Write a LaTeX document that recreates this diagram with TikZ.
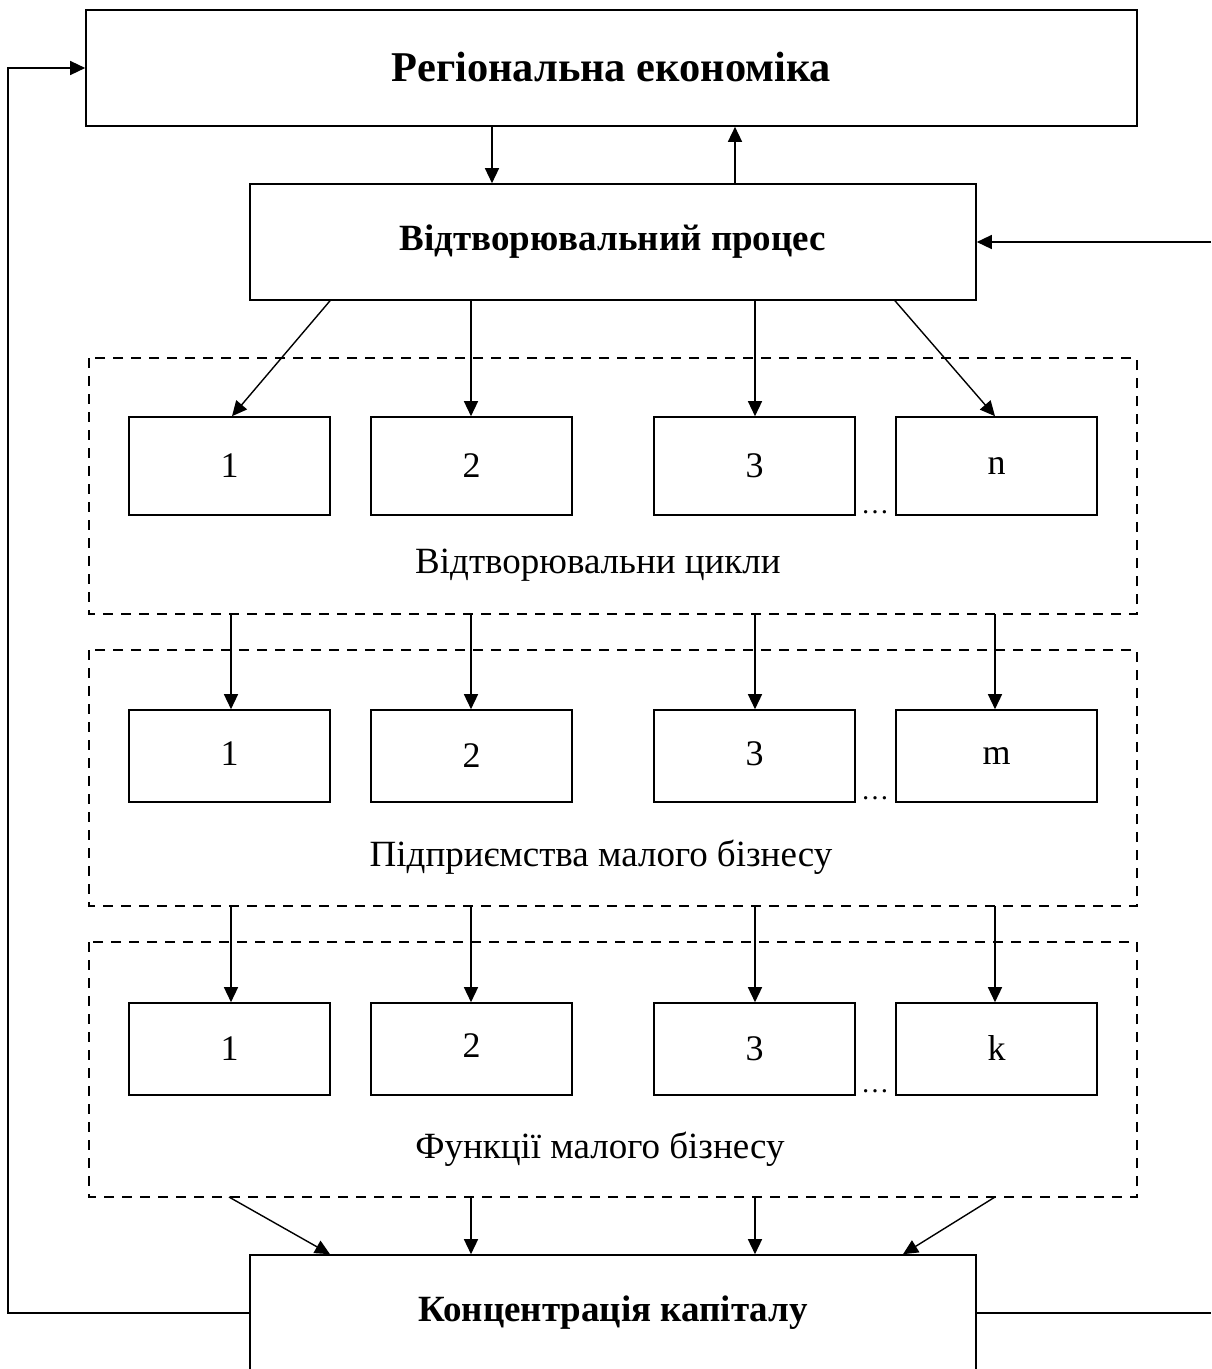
\documentclass[tikz,border=0pt]{standalone}
\usepackage{fontspec}
\setmainfont{Liberation Serif}
\usetikzlibrary{arrows.meta}
\begin{document}
\begin{tikzpicture}[x=1pt,y=-1pt,
  box/.style={draw,line width=1.6pt,inner sep=0pt,rectangle},
  bigbox/.style={box,minimum width=726pt,minimum height=116pt,font=\fontsize{37}{40}\selectfont\bfseries},
  cell/.style={box,minimum width=201pt,font=\fontsize{36}{40}\selectfont},
  group/.style={draw,line width=1.6pt,dash pattern=on 10pt off 8pt},
  lbl/.style={font=\fontsize{37}{40}\selectfont,inner sep=0pt},
  dots/.style={font=\fontsize{28}{30}\selectfont,inner sep=0pt},
  conn/.style={line width=1.4pt},
  arr/.style={conn,-{Triangle[length=15pt,width=14pt]}}]
\useasboundingbox (0,0) rectangle (1211,1369);
% top box
\node[box,minimum width=1051pt,minimum height=116pt,font=\fontsize{42.4}{46}\selectfont\bfseries] (top) at (611.5,68) {\raisebox{3pt}{Регіональна економіка}};
\node[bigbox] (proc) at (613,242) {Відтворювальний процес};
\node[bigbox] (conc) at (613,1313) {Концентрація капіталу};
% dashed groups
\draw[group] (89,358) rectangle (1137,614);
\draw[group] (89,650) rectangle (1137,906);
\draw[group] (89,942) rectangle (1137,1197);
\coordinate (g1b1) at (231,614); \coordinate (g1b2) at (471,614); \coordinate (g1b3) at (755,614); \coordinate (g1b4) at (995,614);
\coordinate (g2b1) at (231,906); \coordinate (g2b2) at (471,906); \coordinate (g2b3) at (755,906); \coordinate (g2b4) at (995,906);
\coordinate (g3b1) at (229,1197); \coordinate (g3b2) at (471,1197); \coordinate (g3b3) at (755,1197); \coordinate (g3b4) at (995,1197);
% row 1
\node[cell,minimum height=98pt] (a1) at (229.5,466) {1};
\node[cell,minimum height=98pt] (a2) at (471.5,466) {2};
\node[cell,minimum height=98pt] (a3) at (754.5,466) {\raisebox{-4pt}{3}};
\node[cell,minimum height=98pt] (a4) at (996.5,466) {n};
\node[dots] (ad) at (875,512) {\ldots};
\node[lbl] (al) at (598,565) {Відтворювальни цикли};
% row 2
\node[cell,minimum height=92pt] (b1) at (229.5,756) {\raisebox{4pt}{1}};
\node[cell,minimum height=92pt] (b2) at (471.5,756) {\raisebox{-3pt}{2}};
\node[cell,minimum height=92pt] (b3) at (754.5,756) {\raisebox{4pt}{3}};
\node[cell,minimum height=92pt] (b4) at (996.5,756) {m};
\node[dots] (bd) at (875,798) {\ldots};
\node[lbl] (bl) at (601,857) {Підприємства малого бізнесу};
% row 3
\node[cell,minimum height=92pt] (c1) at (229.5,1049) {1};
\node[cell,minimum height=92pt] (c2) at (471.5,1049) {\raisebox{6pt}{2}};
\node[cell,minimum height=92pt] (c3) at (754.5,1049) {3};
\node[cell,minimum height=92pt] (c4) at (996.5,1049) {\raisebox{3pt}{k}};
\node[dots] (cd) at (875,1091) {\ldots};
\node[lbl] (cl) at (600,1149) {Функції малого бізнесу};
% connectors top <-> process
\draw[arr] (top.south -| 492,0) -- (proc.north -| 492,0);
\draw[arr] (proc.north -| 735,0) -- (top.south -| 735,0);
% process -> row 1
\draw[arr] (proc.south -| 330,0) -- (a1.north -| 232,0);
\draw[arr] (proc.south -| 471,0) -- (a2.north -| 471,0);
\draw[arr] (proc.south -| 755,0) -- (a3.north -| 755,0);
\draw[arr] (proc.south -| 895,0) -- (a4.north -| 995,0);
% group 1 -> row 2
\draw[arr] (g1b1) -- (b1.north -| g1b1);
\draw[arr] (g1b2) -- (b2.north -| g1b2);
\draw[arr] (g1b3) -- (b3.north -| g1b3);
\draw[arr] (g1b4) -- (b4.north -| g1b4);
% group 2 -> row 3
\draw[arr] (g2b1) -- (c1.north -| g2b1);
\draw[arr] (g2b2) -- (c2.north -| g2b2);
\draw[arr] (g2b3) -- (c3.north -| g2b3);
\draw[arr] (g2b4) -- (c4.north -| g2b4);
% group 3 -> concentration
\draw[arr] (g3b1) -- (conc.north -| 330,0);
\draw[arr] (g3b2) -- (conc.north -| 471,0);
\draw[arr] (g3b3) -- (conc.north -| 755,0);
\draw[arr] (g3b4) -- (conc.north -| 903,0);
% feedback loop
\coordinate (lft) at (8,0);
\coordinate (rgt) at (1211,0);
\draw[arr] (conc.west) -- (conc.west -| lft) -- (top.west -| lft) -- (top.west);
\draw[arr] (proc.east -| rgt) -- (proc.east);
\draw[conn] (conc.east) -- (conc.east -| rgt);
\end{tikzpicture}
\end{document}
